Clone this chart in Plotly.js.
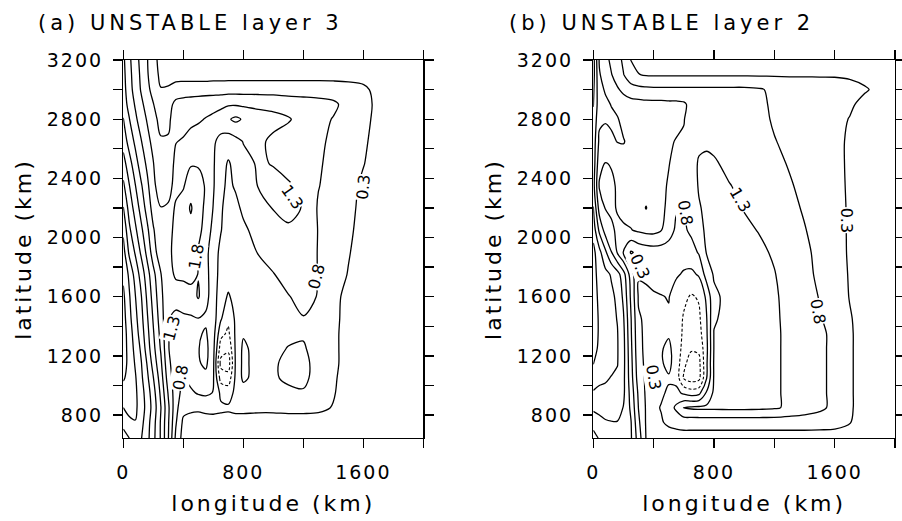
<!DOCTYPE html>
<html><head><meta charset="utf-8">
<script src="https://cdn.plot.ly/plotly-3.0.1.min.js"></script>
<style>
html,body{margin:0;padding:0;background:#fff;}
#chart{width:902px;height:521px;}
.xtick text,.x2tick text,.ytick text,.y2tick text{letter-spacing:2px;}
.xtitle,.x2title,.ytitle,.y2title{letter-spacing:3px;}
g.annotation[data-index="0"] text, g.annotation[data-index="1"] text{letter-spacing:4px;}
</style></head>
<body><div id="chart"></div>
<script>
// grid (km)
const lonKm = [0,40,80,120,160,200,250,300,350,400,450,500,550,600,650,700,750,800,900,1000,1100,1200,1300,1400,1500,1600,1700,1800,2000];
const latKm = [645,750,850,950,1050,1150,1250,1350,1450,1600,1750,1900,2050,2200,2350,2500,2650,2800,2900,3000,3100,3200];

// panel (a): UNSTABLE layer 3 (rows follow latKm, columns follow lonKm)
const layer3 = [
[4.1,4.3,4.6,4.32,3.95,3.45,2.75,1.82,0.7,0.1,0.08,0.08,0.08,0.08,0.08,0.08,0.08,0.07,0.07,0.07,0.07,0.06,0.06,0.05,0.04,0.03,0.02,0.01,0.0],
[4.45,4.7,4.78,4.45,4.0,3.5,2.75,1.85,0.85,0.2,0.15,0.15,0.15,0.15,0.15,0.15,0.15,0.15,0.15,0.15,0.15,0.15,0.14,0.12,0.08,0.05,0.03,0.02,0.0],
[4.8,4.95,4.9,4.55,4.1,3.6,2.82,1.9,0.95,0.45,0.38,0.36,0.4,0.42,0.38,0.36,0.4,0.4,0.38,0.38,0.4,0.4,0.38,0.28,0.1,0.05,0.03,0.02,0.0],
[5.1,5.1,4.9,4.5,4.05,3.5,2.7,1.75,1.0,0.65,0.72,0.85,0.9,0.78,0.2,0.1,0.42,0.55,0.55,0.58,0.62,0.75,0.55,0.33,0.12,0.06,0.04,0.02,0.0],
[5.35,5.15,4.85,4.4,3.9,3.32,2.55,1.55,1.0,0.75,0.95,1.1,1.15,0.85,-0.4,-0.5,0.42,0.9,0.6,0.7,0.95,0.92,0.6,0.36,0.12,0.06,0.04,0.02,0.0],
[5.5,5.15,4.75,4.32,3.75,3.1,2.4,1.4,1.05,0.85,1.1,1.25,1.4,0.9,-0.85,-0.95,0.4,0.92,0.6,0.72,0.95,0.95,0.6,0.4,0.13,0.06,0.04,0.02,0.0],
[5.55,5.1,4.65,4.2,3.55,2.95,2.25,1.32,1.1,1.05,1.2,1.28,1.45,0.95,-0.45,-0.6,0.4,0.9,0.6,0.68,0.82,0.85,0.6,0.4,0.13,0.06,0.04,0.02,0.0],
[5.55,5.05,4.55,4.05,3.45,2.85,2.15,1.32,1.15,1.2,1.2,1.25,1.35,1.0,-0.05,-0.3,0.4,0.75,0.6,0.62,0.7,0.75,0.62,0.4,0.13,0.06,0.04,0.02,0.0],
[5.5,4.95,4.45,3.95,3.35,2.75,2.05,1.32,1.2,1.25,1.25,1.28,1.22,1.05,0.35,-0.1,0.4,0.6,0.6,0.65,0.72,0.78,0.7,0.42,0.14,0.06,0.04,0.02,0.0],
[5.4,4.85,4.32,3.82,3.2,2.6,1.95,1.35,1.45,1.45,1.55,1.85,1.45,1.05,0.5,0.25,0.45,0.55,0.6,0.7,0.78,0.92,0.78,0.45,0.15,0.07,0.04,0.02,0.0],
[5.2,4.7,4.1,3.6,3.0,2.45,1.82,1.55,1.9,1.95,2.0,1.78,1.45,1.05,0.62,0.5,0.55,0.6,0.65,0.78,0.95,1.05,0.78,0.5,0.28,0.1,0.05,0.02,0.0],
[5.0,4.2,3.75,3.2,2.65,2.05,1.45,1.65,2.0,2.05,2.05,1.75,1.45,1.0,0.7,0.55,0.55,0.6,0.82,1.0,1.1,1.05,0.78,0.55,0.33,0.12,0.05,0.02,0.0],
[4.7,3.9,3.4,2.9,2.4,1.85,1.4,1.55,2.0,2.1,2.15,1.95,1.6,1.15,0.82,0.6,0.6,0.72,0.95,1.15,1.25,1.2,0.78,0.6,0.38,0.15,0.05,0.02,0.0],
[4.32,3.6,3.1,2.6,2.1,1.6,1.32,1.4,1.9,2.05,2.35,2.0,1.7,1.28,0.85,0.65,0.7,0.88,1.1,1.32,1.4,1.28,0.75,0.62,0.42,0.18,0.06,0.02,0.0],
[3.9,3.32,2.82,2.35,1.9,1.45,0.95,1.0,1.6,1.75,2.1,2.0,1.75,1.35,0.9,0.72,0.85,1.05,1.32,1.42,1.35,1.2,0.82,0.62,0.45,0.22,0.07,0.02,0.0],
[3.5,3.0,2.5,2.05,1.7,1.32,0.9,0.95,1.45,1.5,1.75,1.75,1.6,1.35,1.0,0.75,0.95,1.15,1.35,1.28,1.15,1.05,0.85,0.68,0.5,0.32,0.1,0.03,0.0],
[3.1,2.6,2.2,1.82,1.45,1.15,0.85,0.85,1.28,1.35,1.45,1.5,1.45,1.35,1.2,1.05,1.15,1.32,1.4,1.2,1.05,0.98,0.88,0.72,0.55,0.38,0.12,0.04,0.0],
[2.82,2.32,1.9,1.55,1.25,0.95,0.65,0.7,1.05,1.1,1.2,1.25,1.32,1.4,1.5,1.75,1.9,1.75,1.5,1.45,1.35,1.1,0.92,0.78,0.6,0.45,0.15,0.04,0.0],
[2.6,2.1,1.75,1.4,1.1,0.82,0.5,0.6,0.95,1.0,1.05,1.1,1.15,1.15,1.2,1.25,1.25,1.22,1.2,1.15,1.05,1.0,0.95,0.88,0.65,0.5,0.16,0.05,0.0],
[2.5,2.0,1.6,1.25,0.95,0.6,0.32,0.35,0.5,0.55,0.55,0.55,0.55,0.58,0.58,0.6,0.6,0.6,0.6,0.6,0.6,0.6,0.6,0.58,0.52,0.42,0.12,0.04,0.0],
[2.45,1.95,1.55,1.2,0.85,0.5,0.2,0.15,0.12,0.1,0.1,0.1,0.1,0.1,0.1,0.1,0.1,0.1,0.1,0.1,0.1,0.1,0.1,0.1,0.1,0.08,0.05,0.03,0.0],
[2.4,1.9,1.5,1.15,0.82,0.45,0.15,0.1,0.08,0.06,0.06,0.06,0.06,0.06,0.06,0.06,0.06,0.06,0.06,0.06,0.06,0.06,0.06,0.05,0.05,0.04,0.03,0.02,0.0]
];

// panel (b): UNSTABLE layer 2
const layer2 = [
[1.6,1.85,2.0,2.05,2.05,2.0,1.85,1.05,0.28,0.12,0.1,0.1,0.1,0.1,0.1,0.1,0.1,0.1,0.1,0.1,0.1,0.1,0.1,0.1,0.1,0.1,0.08,0.04,0.0],
[2.0,2.15,2.25,2.28,2.28,2.2,1.82,0.9,0.25,0.2,0.26,0.38,0.45,0.5,0.5,0.5,0.5,0.5,0.5,0.5,0.5,0.5,0.5,0.5,0.48,0.45,0.32,0.1,0.0],
[2.4,2.45,2.5,2.52,2.5,2.28,1.7,0.78,0.25,0.22,0.32,0.55,0.9,1.32,1.38,1.4,1.4,1.4,1.42,1.42,1.4,1.36,1.22,1.08,0.92,0.66,0.36,0.1,0.0],
[2.75,2.7,2.7,2.68,2.62,2.4,1.6,0.7,0.22,0.22,0.25,0.35,0.45,0.2,0.05,0.15,0.85,1.4,1.45,1.45,1.42,1.36,1.22,1.08,0.92,0.66,0.36,0.1,0.0],
[3.05,2.9,2.85,2.78,2.72,2.42,1.5,0.55,0.22,0.22,0.22,0.26,0.12,-0.75,-0.95,-0.85,0.25,1.35,1.45,1.45,1.42,1.36,1.22,1.08,0.92,0.66,0.36,0.1,0.0],
[3.32,3.1,3.0,2.9,2.82,2.45,1.45,0.48,0.2,0.24,0.26,0.4,0.12,-0.6,-0.9,-0.85,0.2,1.35,1.45,1.45,1.42,1.36,1.22,1.08,0.92,0.66,0.36,0.1,0.0],
[3.45,3.22,3.08,2.95,2.83,2.45,1.4,0.42,0.2,0.24,0.27,0.38,0.12,-0.4,-0.65,-0.6,0.15,1.32,1.45,1.45,1.42,1.36,1.22,1.08,0.92,0.66,0.36,0.1,0.0],
[3.5,3.25,3.1,2.95,2.82,2.42,1.35,0.4,0.2,0.22,0.24,0.26,0.1,-0.3,-0.45,-0.4,0.2,1.32,1.45,1.45,1.42,1.36,1.22,1.08,0.92,0.66,0.36,0.1,0.0],
[3.5,3.25,3.1,2.93,2.78,2.35,1.32,0.35,0.22,0.2,0.22,0.25,0.05,-0.25,-0.35,-0.3,0.25,1.25,1.45,1.45,1.42,1.36,1.2,1.02,0.84,0.62,0.34,0.1,0.0],
[3.5,3.2,3.05,2.9,2.7,2.2,1.2,0.25,0.2,0.25,0.28,0.32,0.1,-0.1,-0.25,-0.15,0.4,1.2,1.45,1.45,1.42,1.35,1.18,0.98,0.78,0.58,0.28,0.09,0.0],
[3.45,3.15,2.95,2.75,2.5,2.0,1.05,0.32,0.38,0.45,0.5,0.45,0.35,0.25,0.2,0.35,1.0,1.35,1.45,1.45,1.4,1.32,1.12,0.92,0.72,0.55,0.26,0.08,0.0],
[3.45,2.95,2.4,1.82,1.25,0.78,0.25,0.42,0.5,0.55,0.55,0.52,0.48,0.5,0.6,0.85,1.32,1.42,1.45,1.42,1.38,1.25,1.05,0.88,0.7,0.52,0.24,0.08,0.0],
[3.1,2.2,1.6,1.35,1.25,1.25,1.28,1.38,1.45,1.45,1.32,1.05,0.7,0.72,0.9,1.15,1.38,1.45,1.42,1.38,1.28,1.12,0.98,0.82,0.66,0.5,0.24,0.08,0.0],
[2.82,1.6,1.28,1.25,1.32,1.4,1.5,1.6,1.82,1.55,1.4,1.2,0.85,0.78,0.98,1.25,1.42,1.45,1.4,1.28,1.15,1.02,0.9,0.76,0.62,0.48,0.24,0.08,0.0],
[2.5,1.25,1.2,1.22,1.35,1.45,1.55,1.6,1.58,1.55,1.42,1.25,1.0,0.92,1.0,1.35,1.45,1.42,1.32,1.2,1.08,0.98,0.84,0.7,0.58,0.46,0.23,0.08,0.0],
[2.6,1.45,1.28,1.33,1.38,1.48,1.55,1.55,1.52,1.5,1.45,1.32,1.15,1.05,1.1,1.35,1.4,1.35,1.2,1.1,1.0,0.9,0.77,0.66,0.56,0.45,0.22,0.07,0.0],
[2.6,1.7,1.6,1.7,1.82,1.84,1.6,1.5,1.45,1.45,1.42,1.35,1.28,1.25,1.15,1.2,1.22,1.2,1.1,1.05,0.95,0.82,0.7,0.62,0.55,0.45,0.22,0.07,0.0],
[2.7,1.9,1.85,1.9,1.85,1.6,1.55,1.5,1.48,1.48,1.45,1.42,1.4,1.32,1.1,1.05,1.05,1.05,1.02,1.0,0.92,0.75,0.66,0.6,0.55,0.45,0.28,0.1,0.0],
[2.82,2.0,1.9,1.78,1.6,1.52,1.5,1.48,1.45,1.45,1.45,1.42,1.42,1.38,1.15,1.0,0.98,0.98,0.98,0.98,0.9,0.72,0.64,0.6,0.58,0.5,0.38,0.15,0.0],
[2.9,1.95,1.75,1.55,1.35,1.2,1.0,0.95,0.92,0.9,0.9,0.9,0.9,0.9,0.9,0.9,0.9,0.9,0.9,0.9,0.85,0.7,0.62,0.6,0.58,0.55,0.48,0.35,0.0],
[3.0,1.85,1.55,1.32,1.1,0.82,0.5,0.32,0.26,0.25,0.25,0.25,0.25,0.25,0.25,0.25,0.25,0.25,0.25,0.25,0.25,0.25,0.25,0.25,0.25,0.25,0.22,0.15,0.0],
[3.0,1.75,1.45,1.2,1.0,0.7,0.28,0.12,0.08,0.06,0.06,0.06,0.06,0.06,0.06,0.06,0.06,0.06,0.06,0.06,0.06,0.06,0.06,0.06,0.06,0.05,0.04,0.02,0.0]
];

// ticks
const lonTickVals = [0,400,800,1200,1600,2000];
const lonTickText = ['0','','800','','1600',''];
const latTickVals = [800,1000,1200,1400,1600,1800,2000,2200,2400,2600,2800,3000,3200];
const latTickText = ['800','','1200','','1600','','2000','','2400','','2800','','3200'];

// contour line labels
const labelsA = [
  {lon:1131, lat:2274, text:'1.3', angle:55},
  {lon:1600, lat:2338, text:'0.3', angle:-84},
  {lon:1289, lat:1735, text:'0.8', angle:-76},
  {lon:489,  lat:1870, text:'1.8', angle:-80},
  {lon:322,  lat:1386, text:'1.3', angle:-75},
  {lon:378,  lat:1050, text:'0.8', angle:-80}
];
const labelsB = [
  {lon:1678, lat:2118, text:'0.3', angle:90},
  {lon:971,  lat:2254, text:'1.3', angle:60},
  {lon:607,  lat:2166, text:'0.8', angle:80},
  {lon:1488, lat:1499, text:'0.8', angle:80},
  {lon:309,  lat:1803, text:'0.3', angle:65},
  {lon:397,  lat:1059, text:'0.3', angle:80}
];

const FONT = 'DejaVu Sans, sans-serif';
const black = [[0,'#000'],[1,'#000']];

function traces(z, xa, ya) {
  return [
    {type:'contour', x:lonKm, y:latKm, z:z, xaxis:xa, yaxis:ya,
     contours:{coloring:'none', start:0.3, end:6.3, size:0.5, showlines:true},
     line:{color:'#000', width:1.3, smoothing:0.9},
     colorscale:black, showscale:false, hoverinfo:'skip'},
    {type:'contour', x:lonKm, y:latKm, z:z, xaxis:xa, yaxis:ya,
     contours:{coloring:'none', start:-1.7, end:-0.2, size:0.5, showlines:true},
     line:{color:'#000', width:1.1, dash:'3px,2px', smoothing:0.9},
     colorscale:black, showscale:false, hoverinfo:'skip'}
  ];
}

const data = [...traces(layer3,'x','y'), ...traces(layer2,'x2','y2')];

function xAxis(dom, anchor) {
  return {domain:dom, anchor:anchor, range:[0,2000], tickmode:'array',
    tickvals:lonTickVals, ticktext:lonTickText, ticks:'outside', ticklen:9, tickwidth:1.3,
    tickcolor:'#000', showline:true, linecolor:'#000', linewidth:1.4, mirror:'allticks',
    showgrid:false, zeroline:false, ticklabelstandoff:8,
    tickfont:{family:FONT, size:19, color:'#000'},
    title:{text:'longitude (km)', font:{family:FONT, size:22, color:'#000'}, standoff:13}};
}
function yAxis(anchor) {
  return {domain:[1-438/521, 1-60/521], anchor:anchor, range:[645,3200], tickmode:'array',
    tickvals:latTickVals, ticktext:latTickText, ticks:'outside', ticklen:9, tickwidth:1.3,
    tickcolor:'#000', showline:true, linecolor:'#000', linewidth:1.4, mirror:'allticks',
    showgrid:false, zeroline:false, ticklabelstandoff:6,
    tickfont:{family:FONT, size:19, color:'#000'},
    title:{text:'latitude (km)', font:{family:FONT, size:22, color:'#000'}, standoff:9}};
}

const annotations = [
  {text:'(a) UNSTABLE layer 3', xref:'paper', yref:'paper', x:190/902, y:1-23/521,
   xanchor:'center', yanchor:'middle', showarrow:false, font:{family:FONT, size:21, color:'#000'}},
  {text:'(b) UNSTABLE layer 2', xref:'paper', yref:'paper', x:661/902, y:1-23/521,
   xanchor:'center', yanchor:'middle', showarrow:false, font:{family:FONT, size:21, color:'#000'}}
];
function addLabels(list, xr, yr) {
  list.forEach(l => annotations.push({text:l.text, x:l.lon, y:l.lat, xref:xr, yref:yr,
    textangle:l.angle, showarrow:false, bgcolor:'#fff', borderpad:0,
    font:{family:FONT, size:16, color:'#000'}}));
}
addLabels(labelsA,'x','y');
addLabels(labelsB,'x2','y2');

const layout = {
  width:902, height:521, margin:{l:0,r:0,t:0,b:0},
  paper_bgcolor:'#fff', plot_bgcolor:'#fff', showlegend:false,
  font:{family:FONT, color:'#000'},
  xaxis: xAxis([123.3/902, 423.3/902], 'y'),
  yaxis: yAxis('x'),
  xaxis2: xAxis([593.3/902, 895/902], 'y2'),
  yaxis2: yAxis('x2'),
  annotations: annotations
};

Plotly.newPlot('chart', data, layout, {staticPlot:true, displayModeBar:false});
</script></body></html>
